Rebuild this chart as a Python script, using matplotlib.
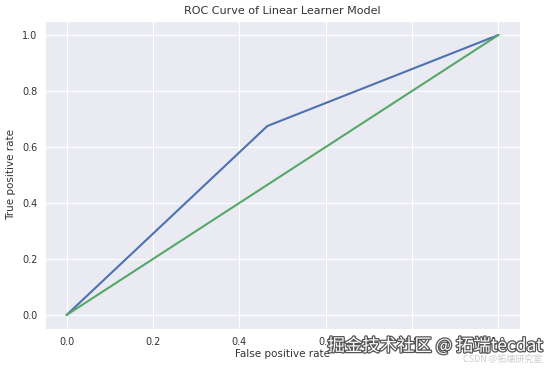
import matplotlib
matplotlib.use("Agg")
import matplotlib.pyplot as plt
import matplotlib.patheffects as pe
import seaborn as sns

fpr = [0.0, 0.465, 1.0]
tpr = [0.0, 0.675, 1.0]
diag = [0.0, 1.0]
ticks = [0.0, 0.2, 0.4, 0.6, 0.8, 1.0]

sns.set_style("darkgrid")
plt.rcParams['font.family'] = ['DejaVu Sans', 'Noto Sans CJK SC']

fig = plt.figure(figsize=(5.51, 3.68), dpi=100)
ax = fig.add_axes([45/551, 39/368, 475/551, 308/368])
ax.plot(fpr, tpr, color='#4c72b0', lw=1.5)
ax.plot(diag, diag, color='#55a868', lw=1.5)
ax.set_xticks(ticks)
ax.set_yticks(ticks)
ax.tick_params(labelsize=7, colors='#333333', pad=2)
ax.set_xlabel('False positive rate', fontsize=7.5, color='#333333', labelpad=2)
ax.set_ylabel('True positive rate', fontsize=7.5, color='#333333', labelpad=4)
ax.set_title('ROC Curve of Linear Learner Model', fontsize=8, color='#333333', pad=5)

fig.text(0.985, 0.035, '掘金技术社区 @ 拓端tecdat', ha='right', va='bottom', fontsize=12.5,
         color='white', family=['Noto Sans CJK SC', 'DejaVu Sans'],
         path_effects=[pe.withStroke(linewidth=1.8, foreground='#555555')])
fig.text(0.985, 0.01, 'CSDN @拓端研究室', ha='right', va='bottom', fontsize=6.5,
         color='#cccccc', family=['Noto Sans CJK SC', 'DejaVu Sans'])

fig.savefig('out.png', dpi=100)
